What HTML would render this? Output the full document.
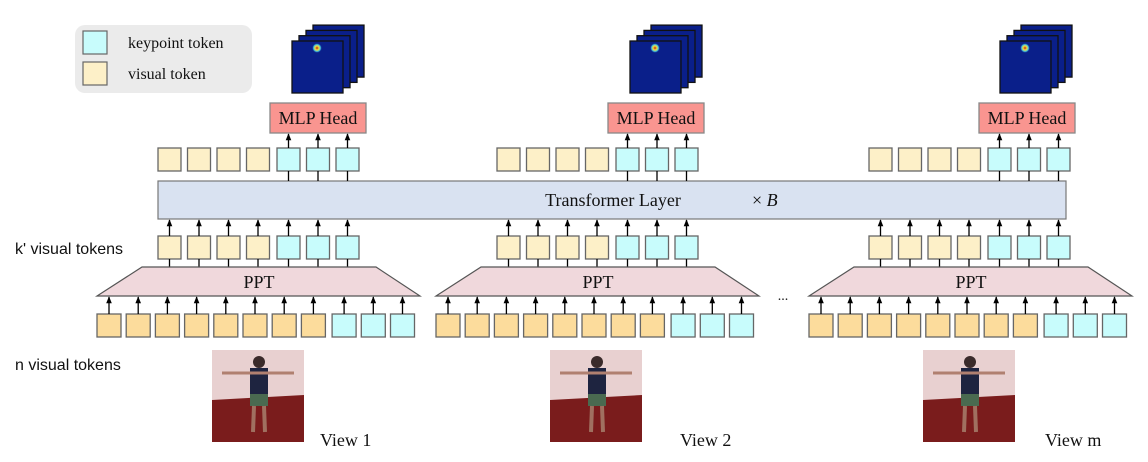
<!DOCTYPE html>
<html><head><meta charset="utf-8"><style>
html,body{margin:0;padding:0;background:#fff;}
svg{display:block;}
.t{font-family:"Liberation Serif",serif;fill:#111;}
.s{font-family:"Liberation Sans",sans-serif;fill:#111;}
</style></head><body>
<svg id="c" width="1148" height="462" viewBox="0 0 1148 462" xmlns="http://www.w3.org/2000/svg">
<defs>
<marker id="a" viewBox="0 0 10 10" refX="9" refY="5" markerWidth="7" markerHeight="7" orient="auto" markerUnits="userSpaceOnUse"><path d="M0,1 L10,5 L0,9 Z" fill="#000"/></marker>
<radialGradient id="hg"><stop offset="0" stop-color="#c02010"/><stop offset="0.4" stop-color="#f0e040"/><stop offset="0.7" stop-color="#40c0e0"/><stop offset="1" stop-color="#0a2a90" stop-opacity="0"/></radialGradient>
</defs>
<rect x="75" y="25" width="177" height="68" rx="10" fill="#ebebeb"/>
<rect x="83" y="31" width="24" height="23" fill="#c8fcfc" stroke="#666" stroke-width="1.2"/>
<rect x="83" y="62" width="24" height="23" fill="#fdf0c8" stroke="#666" stroke-width="1.2"/>
<text class="t" x="128" y="48" font-size="16">keypoint token</text>
<text class="t" x="128" y="79" font-size="16">visual token</text>
<rect x="158" y="181" width="908" height="38" fill="#d9e2f1" stroke="#777" stroke-width="1.2"/>
<text class="t" x="613" y="206" font-size="18" text-anchor="middle">Transformer Layer</text>
<text class="t" x="752" y="206" font-size="18">× <tspan font-style="italic">B</tspan></text>
<text class="s" x="15" y="254" font-size="16">k' visual tokens</text>
<text class="s" x="15" y="370" font-size="16">n visual tokens</text>
<text class="t" x="783" y="300" font-size="14" text-anchor="middle">...</text>
<g id="g"></g>
</svg>
<script>
var g=document.getElementById('g'),h='';
var groups=[{t:158,b:97,m:270,hx:292,im:212,v:'View 1',vx:320},{t:497,b:436,m:608,hx:630,im:550,v:'View 2',vx:680},{t:869,b:809,m:979,hx:1000,im:923,v:'View m',vx:1045}];
function R(x,y,w,hh,f,s){return '<rect x="'+x+'" y="'+y+'" width="'+w+'" height="'+hh+'" fill="'+f+'" stroke="'+(s||'#666')+'" stroke-width="1.3"/>';}
function A(x,y1,y2){return '<line x1="'+x+'" y1="'+y1+'" x2="'+x+'" y2="'+y2+'" stroke="#000" stroke-width="1.3" marker-end="url(#a)"/>';}
function L(x,y1,y2){return '<line x1="'+x+'" y1="'+y1+'" x2="'+x+'" y2="'+y2+'" stroke="#000" stroke-width="1.3"/>';}
groups.forEach(function(G){
 for(var k=3;k>=0;k--){var x=G.hx+k*7,y=41-k*5.3;h+=R(x,y,51,52,'#0a1f8a','#111');}
 h+='<circle cx="'+(G.hx+25)+'" cy="48" r="5" fill="url(#hg)"/>';
 h+=R(G.m,103,96,30,'#f99590','#888');
 h+='<text class="t" x="'+(G.m+48)+'" y="124" font-size="18" text-anchor="middle">MLP Head</text>';
 for(var i=0;i<7;i++){
  var x=G.t+i*29.5+(i>=4?1:0),kp=i>=4,f=kp?'#c8fcfc':'#fdf0c8';
  h+=R(x,148,23,23,f);
  h+=R(x,236,23,23,f);
  var cx=x+11.5;
  if(kp){h+=L(cx,171,181);h+=A(cx,148,134);}
  h+=A(cx,236,220);
  h+=L(cx,259,267);
 }
 var o=G.b-97;
 h+='<polygon points="'+(142+o)+',267 '+(376+o)+',267 '+(420+o)+',296 '+(97+o)+',296" fill="#f0d8dc" stroke="#555" stroke-width="1.2"/>';
 h+='<text class="t" x="'+(259+o)+'" y="288" font-size="18" text-anchor="middle">PPT</text>';
 for(var j=0;j<11;j++){
  var x=G.b+j*29.2+(j>=8?1.5:0),kp=j>=8;
  h+=R(x,314,24,23,kp?'#c8fcfc':'#fcdc9c');
  h+=A(x+12,314,297);
 }
 var ix=G.im;
 h+='<rect x="'+ix+'" y="350" width="92" height="92" fill="#e8d0d0"/>';
 h+='<polygon points="'+ix+',400 '+(ix+92)+',395 '+(ix+92)+',442 '+ix+',442" fill="#7a1c1c"/>';
 h+='<rect x="'+(ix+38)+'" y="368" width="18" height="26" fill="#1e2440"/>';
 h+='<circle cx="'+(ix+47)+'" cy="362" r="6" fill="#3a2a2a"/>';
 h+='<line x1="'+(ix+10)+'" y1="373" x2="'+(ix+82)+'" y2="373" stroke="#b08070" stroke-width="3"/>';
 h+='<rect x="'+(ix+38)+'" y="394" width="18" height="12" fill="#4a6a50"/>';
 h+='<line x1="'+(ix+42)+'" y1="406" x2="'+(ix+41)+'" y2="432" stroke="#a07060" stroke-width="4"/>';
 h+='<line x1="'+(ix+52)+'" y1="406" x2="'+(ix+53)+'" y2="432" stroke="#a07060" stroke-width="4"/>';
 h+='<text class="t" x="'+G.vx+'" y="446" font-size="18">'+G.v+'</text>';
});
g.innerHTML=h;
</script>
</body></html>
